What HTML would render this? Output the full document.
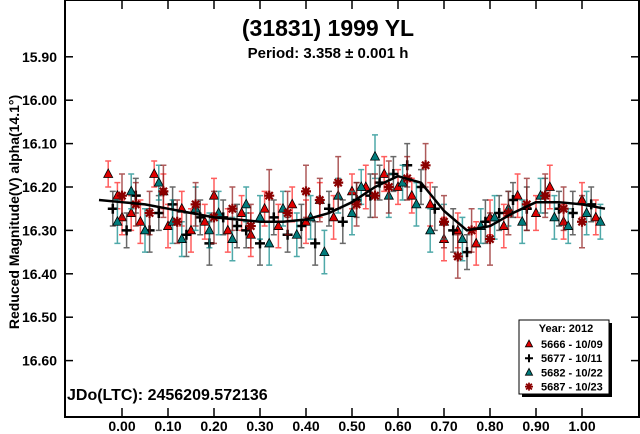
<!DOCTYPE html>
<html><head><meta charset="utf-8"><style>
html,body{margin:0;padding:0;background:#fff;}
svg{display:block;font-family:"Liberation Sans",Arial,sans-serif;font-weight:bold;}
</style></head><body>
<svg id="chart" width="640" height="434" viewBox="0 0 640 434">
<rect x="0" y="0" width="640" height="434" fill="#fff"/>
<g id="marks"></g>
<rect x="65" y="0" width="574" height="417" fill="none" stroke="#000" stroke-width="2"/>
<g id="axes"></g>
<text x="328" y="36" text-anchor="middle" font-size="23">(31831) 1999 YL</text>
<text x="328" y="58" text-anchor="middle" font-size="15">Period: 3.358 ± 0.001 h</text>
<text x="67" y="400" font-size="16">JDo(LTC): 2456209.572136</text>
<text transform="translate(19,212) rotate(-90)" text-anchor="middle" font-size="14">Reduced Magnitude(V) alpha(14.1°)</text>
<g>
<rect x="522" y="323" width="90" height="74" fill="#000"/>
<rect x="519" y="320" width="90" height="74" fill="#fff" stroke="#000" stroke-width="1"/>
<text x="566" y="332" text-anchor="middle" font-size="11">Year: 2012</text>
<g id="legend-items"></g>
</g>
</svg>
<script>
const xTicks=[0,0.1,0.2,0.3,0.4,0.5,0.6,0.7,0.8,0.9,1.0];
const yTicks=[15.9,16.0,16.1,16.2,16.3,16.4,16.5,16.6];
const curvePhase=[-0.05,0,0.05,0.1,0.15,0.2,0.25,0.3,0.35,0.4,0.45,0.5,0.55,0.6,0.65,0.7,0.75,0.8,0.85,0.9,0.95,1.0,1.05];
const curveMag=[16.23,16.235,16.24,16.25,16.26,16.27,16.275,16.28,16.28,16.275,16.26,16.235,16.2,16.175,16.19,16.255,16.3,16.29,16.26,16.235,16.235,16.24,16.25];
const seriesNames=["5666 - 10/09","5677 - 10/11","5682 - 10/22","5687 - 10/23"];
const s1Phase=[-0.03,-0.01,0.0,0.02,0.04,0.07,0.09,0.1,0.13,0.15,0.18,0.2,0.23,0.26,0.28,0.31,0.34,0.37,0.4,0.43,0.46,0.5,0.53,0.57,0.6,0.63,0.67,0.7,0.73,0.77,0.8,0.83,0.86,0.9,0.93,0.96,1.0,1.03];
const s1Mag=[16.17,16.22,16.27,16.26,16.28,16.17,16.21,16.29,16.25,16.3,16.28,16.22,16.3,16.26,16.31,16.25,16.29,16.24,16.28,16.23,16.27,16.21,16.2,16.17,16.2,16.22,16.24,16.32,16.3,16.33,16.27,16.29,16.22,16.26,16.2,16.28,16.23,16.27];
const s1Err=[0.03,0.03,0.04,0.04,0.05,0.03,0.04,0.05,0.04,0.05,0.04,0.04,0.05,0.04,0.05,0.04,0.05,0.04,0.05,0.04,0.05,0.04,0.05,0.04,0.04,0.04,0.05,0.05,0.04,0.05,0.04,0.05,0.05,0.04,0.05,0.04,0.04,0.04];
const s2Phase=[-0.02,0.01,0.03,0.06,0.08,0.11,0.14,0.17,0.19,0.22,0.25,0.27,0.3,0.33,0.36,0.39,0.42,0.45,0.48,0.51,0.54,0.56,0.59,0.62,0.65,0.68,0.72,0.75,0.79,0.82,0.85,0.88,0.92,0.95,0.98,1.02];
const s2Mag=[16.25,16.3,16.22,16.3,16.26,16.24,16.31,16.27,16.33,16.27,16.29,16.3,16.33,16.27,16.31,16.29,16.33,16.25,16.28,16.23,16.22,16.19,16.17,16.15,16.2,16.25,16.3,16.35,16.28,16.26,16.23,16.25,16.22,16.25,16.26,16.24];
const s2Err=[0.04,0.04,0.04,0.05,0.04,0.04,0.05,0.04,0.05,0.04,0.05,0.04,0.05,0.04,0.04,0.05,0.05,0.04,0.05,0.04,0.05,0.04,0.04,0.05,0.04,0.05,0.05,0.04,0.05,0.04,0.04,0.05,0.04,0.04,0.05,0.04];
const s3Phase=[-0.01,0.02,0.05,0.08,0.11,0.13,0.16,0.19,0.21,0.24,0.27,0.3,0.32,0.35,0.38,0.41,0.44,0.47,0.5,0.52,0.55,0.58,0.61,0.64,0.67,0.7,0.74,0.78,0.81,0.84,0.87,0.91,0.94,0.97,1.01,1.04];
const s3Mag=[16.28,16.21,16.3,16.19,16.28,16.32,16.25,16.3,16.26,16.32,16.24,16.27,16.33,16.25,16.31,16.27,16.35,16.22,16.26,16.2,16.13,16.22,16.19,16.24,16.3,16.28,16.32,16.29,16.27,16.25,16.28,16.22,16.27,16.29,16.26,16.28];
const s3Err=[0.05,0.04,0.05,0.04,0.05,0.04,0.05,0.04,0.05,0.05,0.04,0.05,0.05,0.04,0.05,0.05,0.05,0.04,0.05,0.04,0.05,0.05,0.04,0.05,0.05,0.04,0.05,0.04,0.05,0.04,0.05,0.04,0.05,0.04,0.05,0.04];
const s4Phase=[0.0,0.03,0.06,0.09,0.12,0.16,0.2,0.24,0.28,0.32,0.36,0.4,0.43,0.47,0.51,0.55,0.58,0.62,0.66,0.7,0.73,0.76,0.8,0.84,0.88,0.92,0.96,1.0];
const s4Mag=[16.22,16.24,16.26,16.21,16.28,16.24,16.27,16.25,16.29,16.22,16.26,16.21,16.23,16.19,16.24,16.22,16.2,16.18,16.15,16.28,16.36,16.3,16.32,16.26,16.24,16.22,16.25,16.28];
const s4Err=[0.05,0.05,0.05,0.06,0.05,0.05,0.06,0.05,0.05,0.06,0.05,0.06,0.05,0.06,0.05,0.05,0.06,0.05,0.05,0.06,0.05,0.05,0.06,0.05,0.06,0.05,0.05,0.06];

const NS="http://www.w3.org/2000/svg";
function xs(p){return 122+p*460;}
function ys(m){return 187+(m-16.2)*434;}
function el(tag,attrs,parent){const e=document.createElementNS(NS,tag);for(const k in attrs)e.setAttribute(k,attrs[k]);parent.appendChild(e);return e;}
const axes=document.getElementById('axes');
const marks=document.getElementById('marks');
xTicks.forEach(t=>{
  const x=xs(t);
  const a=el('line',{x1:x,y1:417,x2:x,y2:408,stroke:'#000','stroke-width':1.5},axes);
  
  
  const b=el('line',{x1:x,y1:0,x2:x,y2:9,stroke:'#000','stroke-width':1.5},axes);
  
  
  const tx=el('text',{x:x,y:431,'text-anchor':'middle','font-size':14},axes);
  tx.textContent=t.toFixed(2);
  
  
});
yTicks.forEach(t=>{
  const y=ys(t);
  const a=el('line',{x1:65,y1:y,x2:73,y2:y,stroke:'#000','stroke-width':1.5},axes);
  
  
  const b=el('line',{x1:631,y1:y,x2:639,y2:y,stroke:'#000','stroke-width':1.5},axes);
  
  
  const tx=el('text',{x:57,y:y+5,'text-anchor':'end','font-size':14},axes);
  tx.textContent=t.toFixed(2);
  
  
});
const colors=[{fill:'#e00000',err:'rgba(255,40,40,0.75)'},{fill:'#000',err:'rgba(40,40,40,0.7)'},{fill:'#007b7b',err:'rgba(20,140,140,0.75)'},{fill:'#8b0000',err:'rgba(140,20,20,0.7)'}];
function marker(kind,x,y,parent,s){
  let m;
  if(kind===0||kind===2){
    m=el('polygon',{points:`${x},${y-5*s} ${x-4.5*s},${y+3.5*s} ${x+4.5*s},${y+3.5*s}`,fill:colors[kind].fill,stroke:'#000','stroke-width':0.8},parent);
  }else if(kind===1){
    m=el('path',{d:`M${x-5*s},${y}H${x+5*s}M${x},${y-5*s}V${y+5*s}`,stroke:'#000','stroke-width':2.5*s},parent);
  }else{
    m=el('path',{d:`M${x-5*s},${y}H${x+5*s}M${x},${y-5*s}V${y+5*s}M${x-3.6*s},${y-3.6*s}L${x+3.6*s},${y+3.6*s}M${x-3.6*s},${y+3.6*s}L${x+3.6*s},${y-3.6*s}`,stroke:'#8b0000','stroke-width':2.2*s},parent);
  }
  return m;
}
const series=[[s1Phase,s1Mag,s1Err],[s2Phase,s2Mag,s2Err],[s3Phase,s3Mag,s3Err],[s4Phase,s4Mag,s4Err]];
series.forEach((s,k)=>{
  const g=el('g',{},marks);
  
  
  s[0].forEach((p,i)=>{
    const x=xs(p),y=ys(s[1][i]),e=s[2][i]*434;
    const eb=el('path',{d:`M${x},${y-e}V${y+e}M${x-3},${y-e}H${x+3}M${x-3},${y+e}H${x+3}`,stroke:colors[k].err,'stroke-width':1.5,fill:'none'},g);
    
    
  });
  s[0].forEach((p,i)=>{
    const m=marker(k,xs(p),ys(s[1][i]),g,1);
    
    
  });
});
let d='';
curvePhase.forEach((p,i)=>{d+=(i?'L':'M')+xs(p)+','+ys(curveMag[i]);});
const cv=el('path',{d:d,stroke:'#000','stroke-width':2.5,fill:'none','stroke-linejoin':'round'},marks);


const li=document.getElementById('legend-items');
seriesNames.forEach((n,k)=>{
  const y=344+k*14.2;
  const m=marker(k,529,y,li,0.8);
  
  
  const t=el('text',{x:541,y:y+4,'font-size':11},li);
  t.textContent=n;
  
  
});
</script>
</body></html>
